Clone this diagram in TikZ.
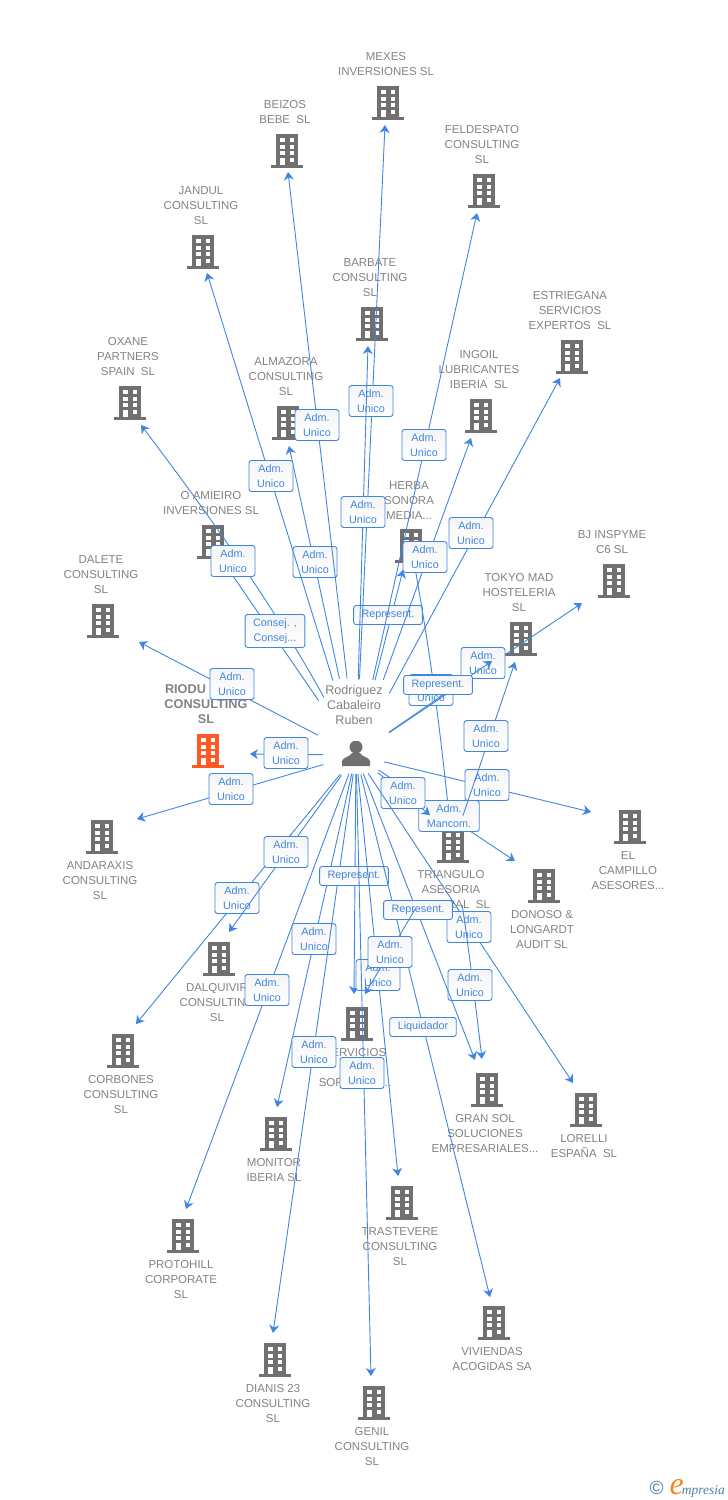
\documentclass[tikz,border=0pt]{standalone}
\usepackage{fontspec}
\setmainfont{Liberation Sans}
\newfontfamily\logofont{Liberation Serif}
\usetikzlibrary{positioning,arrows.meta}
\definecolor{linkblue}{HTML}{3F86E0}
\definecolor{labelgrey}{HTML}{828282}
\definecolor{iconcolor}{HTML}{707070}
\definecolor{ownred}{HTML}{FF5A26}
\definecolor{logosteel}{HTML}{4F7F9F}
\definecolor{logoorange}{HTML}{F28A1E}
\def\admu{Adm.\\Unico}
\def\repr{Represent.}
\def\consej{Consej. ,\\Consej...}
\def\mancom{Adm.\\Mancom.}
\def\liquid{Liquidador}
\tikzset{
    building/.style={inner sep=0pt, minimum width=32pt, minimum height=36pt,
        path picture={
            \begin{scope}[shift={(path picture bounding box.center)}]
                \fill[#1] (-11,-16) rectangle (11,15);
                \fill[#1] (-16,15) rectangle (16,18);
                \foreach \wy in {-12,-5.5,1} {
                    \fill[white] (-6.7,\wy) rectangle (-2.3,\wy+4.3);
                    \fill[white] (2.7,\wy) rectangle (7.3,\wy+4.3);
                }
                \fill[white] (-6.7,7.5) rectangle (-2.3,15);
                \fill[white] (2.7,7.5) rectangle (7.3,12);
            \end{scope}
        }},
    building/.default=iconcolor,
    person/.style={inner sep=0pt, minimum width=30pt, minimum height=28pt,
        path picture={
            \begin{scope}[shift={(path picture bounding box.center)}]
                \fill[iconcolor] (0,-8) circle (6.5);
                \fill[iconcolor] (-14,11) -- (-14,6) .. controls (-13,2) and (-6,2) .. (-4,-2)
                    -- (4,-2) .. controls (6,2) and (13,2) .. (14,6) -- (14,11) -- cycle;
            \end{scope}
        }},
    company/.style={font=\fontsize{11.5}{15}\selectfont, text=labelgrey, align=center,
        inner sep=0pt, xshift=-2pt},
    link/.style={draw=linkblue, line width=0.9pt, -{Stealth[length=8pt,width=10pt,inset=2.5pt]}},
    rel/.style={draw=linkblue, line width=0.9pt, rounded corners=2.5pt,
        top color=black!4, bottom color=white, text=linkblue, align=center,
        font=\fontsize{10.8}{15}\selectfont, inner xsep=8pt, inner ysep=4pt,
        minimum width=44pt, minimum height=19pt},
}
\begin{document}
\begin{tikzpicture}[x=1pt, y=-1pt]
    \useasboundingbox (0,0) rectangle (728,1500);

    \foreach \nm/\x/\y/\txt in {
        mexes/388/102/{MEXES\\INVERSIONES SL},
        beizos/287/150/{BEIZOS\\BEBE\ \ SL},
        jandul/203/251/{JANDUL\\CONSULTING\\SL},
        feldespato/484/190/{FELDESPATO\\CONSULTING\\SL},
        barbate/372/323/{BARBATE\\CONSULTING\\SL},
        almazora/288/422/{ALMAZORA\\CONSULTING\\SL},
        estriegana/572/356/{ESTRIEGANA\\SERVICIOS\\EXPERTOS\ \ SL},
        oxane/130/402/{OXANE\\PARTNERS\\SPAIN\ \ SL},
        ingoil/481/415/{INGOIL\\LUBRICANTES\\IBERIA\ \ SL},
        amieiro/213/541/{O AMIEIRO\\INVERSIONES SL},
        herba/411/545/{HERBA\\SONORA\\MEDIA...},
        dalete/103/620/{DALETE\\CONSULTING\\SL},
        bj/614/580/{BJ INSPYME\\C6 SL},
        tokyo/521/638/{TOKYO MAD\\HOSTELERIA\\SL}} {
        \node[building] (\nm) at (\x,\y) {};
        \node[company, above=7.5pt of \nm] (\nm-lbl) {\txt};
    }
    \foreach \nm/\x/\y/\txt in {
        andaraxis/102/836/{ANDARAXIS\\CONSULTING\\SL},
        campillo/630/826/{EL\\CAMPILLO\\ASESORES...},
        triangulo/453/845/{TRIANGULO\\ASESORIA\\INTEGRAL\ \ SL},
        donoso/544/885/{DONOSO \&\\LONGARDT\\AUDIT SL},
        dalquivir/219/958/{DALQUIVIR\\CONSULTING\\SL},
        corbones/123/1050/{CORBONES\\CONSULTING\\SL},
        servicios/357/1023/{SERVICIOS\\ \\SOR\hspace*{38pt}...},
        gransol/487/1089/{GRAN SOL\\SOLUCIONES\\EMPRESARIALES...},
        lorelli/586/1109/{LORELLI\\ESPAÑA\ \ SL},
        monitor/276/1133/{MONITOR\\IBERIA SL},
        trastevere/402/1202/{TRASTEVERE\\CONSULTING\\SL},
        protohill/183/1235/{PROTOHILL\\CORPORATE\\SL},
        viviendas/494/1322/{VIVIENDAS\\ACOGIDAS SA},
        dianis/275/1359/{DIANIS 23\\CONSULTING\\SL},
        genil/374/1402/{GENIL\\CONSULTING\\SL}} {
        \node[building] (\nm) at (\x,\y) {};
        \node[company, below=7pt of \nm] (\nm-lbl) {\txt};
    }
    \node[building=ownred] (riodubar) at (208,750) {};
    \node[company, font=\fontsize{12.7}{15}\selectfont\bfseries, above=8pt of riodubar] (riodubar-lbl)
        {RIODU\hspace*{41pt}\\CONSULTING\\SL};
    \node[person] (ruben) at (356,755) {};
    \node[company, font=\fontsize{12.6}{15}\selectfont, xshift=0pt, above=16pt of ruben] (ruben-lbl)
        {Rodriguez\\Cabaleiro\\Ruben};

    \coordinate (oxane-in) at (141,425);
    \coordinate (amieiro-in) at (222,560);
    \draw[link, shorten <=66pt] (ruben.center) to[bend right=4] (oxane-in);
    \draw[link, shorten <=66pt] (ruben.center) -- (amieiro-in);
    \node[rel] (oxane-rel) at (275,631) {\consej};
    \node[rel] (amieiro-rel) at (233,561) {\admu};

    \foreach \nm/\from/\sh/\bnd/\tx/\ty/\bx/\by/\txt in {
        herba/ruben/77/0/403/570/388/615/\repr,
        almazora/ruben/78/0/289/446/315/562/\admu,
        jandul/ruben/78/0/207/273/271/476/\admu,
        mexes/ruben/76/0/385/125/371/401/\admu,
        barbate/ruben/75/0/368/346/363/512/\admu,
        beizos/ruben/77/0/288/172/317/425/\admu,
        feldespato/ruben/77/0/477/213/424/445/\admu,
        herba-b/herba/15/-2/449/815/431/690/\admu,
        estriegana/ruben/70/0/560/378/471/533/\admu,
        ingoil/ruben/80/0/471/438/425/557/\admu,
        bj/ruben/40/0/582/603/483/663/\admu,
        tokyo/ruben/40/0/492/661/438/685/\repr,
        campillo/ruben/29/0/591/812/487/785/\admu,
        riodubar/ruben/33/0/250/754/286/753/\admu,
        dalete/ruben/43/0/139/642/232/684/\admu,
        andaraxis/ruben/34/0/137/819/231/789/\admu,
        donoso/ruben/27/0/515/861/449/816/\mancom,
        triangulo/ruben/28/0/430/815/403/793/\admu,
        tokyo-b/triangulo/31/0/515/662/486/736/\admu,
        corbones/ruben/25/0/136/1024/237/898/\admu,
        dalquivir/ruben/25/0/229/932/286/852/\admu,
        protohill/ruben/20/0/186/1209/267/990/\admu,
        monitor/ruben/19/0/277/1107/314/939/\admu,
        dianis/ruben/19/0/273/1333/314/1052/\admu,
        servicios/ruben/19/0/354/994/354/876/\repr,
        trastevere/ruben/19/0/398/1176/378/975/\admu,
        genil/ruben/19/0/371/1376/362/1073/\admu,
        viviendas/ruben/20/0/490/1297/423/1027/\liquid,
        lorelli/ruben/22/0/573/1083/469/927/\admu,
        gransol-b/triangulo/61/-1/482/1059/470/985/\admu,
        gransol/ruben/20/0/475/1060/418/910/\repr,
        servicios-b/triangulo/75/0/365/994/390/952/\admu} {
        \coordinate (\nm-in) at (\tx,\ty);
        \draw[link, shorten <=\sh pt] (\from.center) to[bend right=\bnd] (\nm-in);
        \node[rel] (\nm-rel) at (\bx,\by) {\txt};
    }

    \node[inner sep=0pt, anchor=base east] (empresia) at (725,1494)
        {\textcolor{logosteel}{\fontsize{19}{19}\selectfont\textcopyright}\hspace{6pt}%
        {\logofont\itshape\textcolor{logoorange}{\fontsize{32}{32}\selectfont e}\hspace{-2pt}%
        \textcolor{logosteel}{\fontsize{13.5}{14}\selectfont mpresia}}};
\end{tikzpicture}
\end{document}
